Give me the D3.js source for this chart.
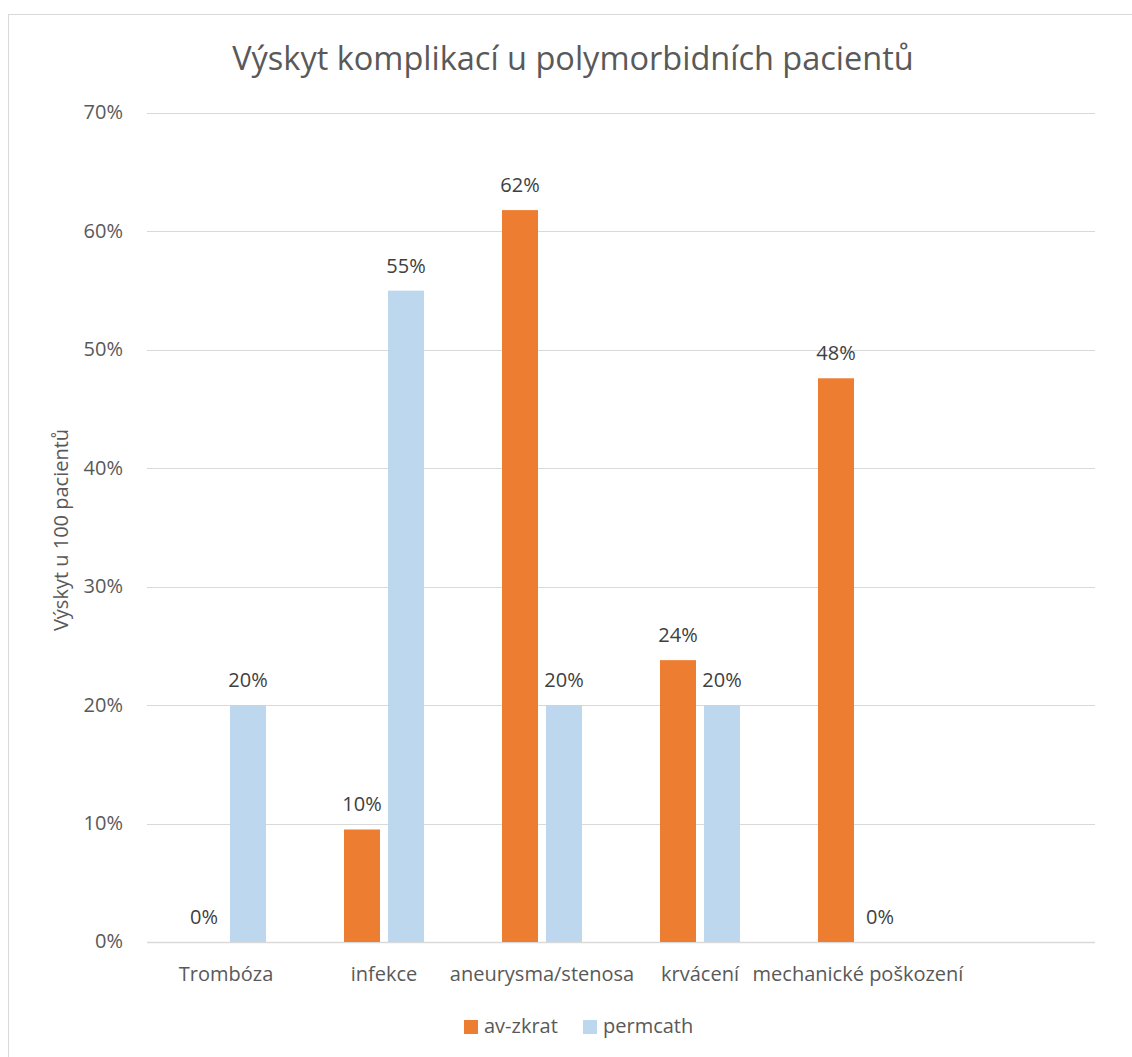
<!DOCTYPE html>
<html>
<head>
<meta charset="utf-8">
<title>Výskyt komplikací</title>
<script src="https://d3js.org/d3.v7.min.js"></script>
<style>
  body { margin: 0; background: white; }
  text { font-family: "Open Sans", Lato, sans-serif; }
</style>
</head>
<body>
<div id="plot"></div>
<script>
// data
var categories = ['Trombóza', 'infekce', 'aneurysma/stenosa', 'krvácení', 'mechanické poškození', '']
var seriesNames = ['av-zkrat', 'permcath']
var avZkrat = [0, 9.5, 61.8, 23.8, 47.6, null]
var permcath = [20, 55, 20, 20, 0, null]
var avLabels = ['0%', '10%', '62%', '24%', '48%', '']
var permLabels = ['20%', '55%', '20%', '20%', '0%', '']
var yTicks = [0, 10, 20, 30, 40, 50, 60, 70]
var colors = ['#ED7D31', '#BDD7EE']

var W = 1132, H = 1057
var margin = {top: 113, left: 147, right: 1132 - 1095, bottom: 1057 - 942}

var svg = d3.select('#plot').append('svg')
    .attr('width', W)
    .attr('height', H)

// chart frame
svg.append('rect')
    .attr('x', 8.5).attr('y', 14.5)
    .attr('width', 1140).attr('height', 1060)
    .attr('fill', 'white')
    .attr('stroke', '#D9D9D9')

var x0 = d3.scaleBand().domain(categories.map(function(d, i){ return i }))
    .range([margin.left, W - margin.right])
var x1 = d3.scaleBand().domain(seriesNames)
    .range([x0.bandwidth()/2 - 40, x0.bandwidth()/2 + 40])
    .paddingInner(8/44)
var y = d3.scaleLinear().domain([0, 70]).range([H - margin.bottom, margin.top])

// gridlines
svg.append('g').selectAll('line')
    .data(yTicks)
    .enter().append('line')
      .attr('x1', margin.left).attr('x2', W - margin.right)
      .attr('y1', function(d){ return Math.round(y(d)) + 0.5 })
      .attr('y2', function(d){ return Math.round(y(d)) + 0.5 })
      .attr('stroke', '#D9D9D9')
      .attr('stroke-width', function(d){ return d === 0 ? 1.5 : 1 })

// y tick labels
svg.append('g').selectAll('text')
    .data(yTicks)
    .enter().append('text')
      .attr('x', 123)
      .attr('y', function(d){ return y(d) })
      .attr('dy', '0.32em')
      .attr('text-anchor', 'end')
      .attr('font-size', 20)
      .attr('fill', '#595959')
      .text(function(d){ return d + '%' })

// bars
var rows = categories.map(function(c, i){
  return {i: i, vals: [
    {s: seriesNames[0], v: avZkrat[i], lab: avLabels[i]},
    {s: seriesNames[1], v: permcath[i], lab: permLabels[i]}
  ]}
})

var groups = svg.append('g').selectAll('g')
    .data(rows)
    .enter().append('g')
      .attr('transform', function(d){ return 'translate(' + x0(d.i) + ',0)' })

groups.selectAll('rect')
    .data(function(d){ return d.vals.filter(function(v){ return v.v !== null }) })
    .enter().append('rect')
      .attr('x', function(d){ return x1(d.s) })
      .attr('width', x1.bandwidth())
      .attr('y', function(d){ return y(d.v) })
      .attr('height', function(d){ return y(0) - y(d.v) })
      .attr('fill', function(d){ return colors[seriesNames.indexOf(d.s)] })

groups.selectAll('text')
    .data(function(d){ return d.vals.filter(function(v){ return v.v !== null }) })
    .enter().append('text')
      .attr('x', function(d){ return x1(d.s) + x1.bandwidth()/2 })
      .attr('y', function(d){ return y(d.v) - 18 })
      .attr('text-anchor', 'middle')
      .attr('font-size', 20)
      .attr('fill', '#404040')
      .text(function(d){ return d.lab })

// category labels
svg.append('g').selectAll('text')
    .data(categories)
    .enter().append('text')
      .attr('x', function(d, i){ return x0(i) + x0.bandwidth()/2 })
      .attr('y', 981)
      .attr('text-anchor', 'middle')
      .attr('font-size', 20)
      .attr('fill', '#595959')
      .text(function(d){ return d })

// title
svg.append('text')
    .attr('x', 573)
    .attr('y', 70)
    .attr('text-anchor', 'middle')
    .attr('font-size', 32.5)
    .attr('fill', '#595959')
    .text('Výskyt komplikací u polymorbidních pacientů')

// y axis title
svg.append('text')
    .attr('transform', 'translate(68,' + 530 + ') rotate(-90)')
    .attr('text-anchor', 'middle')
    .attr('font-size', 20)
    .attr('fill', '#595959')
    .text('Výskyt u 100 pacientů')

// legend
var legendX = [464, 583]
var legend = svg.append('g').selectAll('g')
    .data(seriesNames)
    .enter().append('g')
      .attr('transform', function(d, i){ return 'translate(' + legendX[i] + ',1020)' })
legend.append('rect')
    .attr('width', 14).attr('height', 14)
    .attr('fill', function(d, i){ return colors[i] })
legend.append('text')
    .attr('x', 20).attr('y', 13)
    .attr('font-size', 20)
    .attr('fill', '#595959')
    .text(function(d){ return d })
</script>
</body>
</html>
